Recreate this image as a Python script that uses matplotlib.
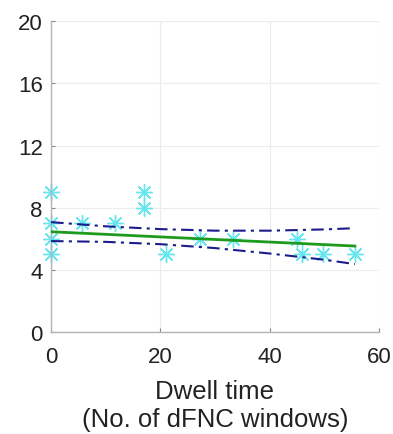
import numpy as np
import matplotlib
matplotlib.use("Agg")
import matplotlib.pyplot as plt

plt.rcParams['font.family'] = ['Liberation Sans', 'DejaVu Sans']

# dwell time (windows) vs. score, one point per subject
dwell = [0, 0, 0, 0, 5.7, 11.7, 17, 17, 21, 27.2, 33.3, 45, 46, 49.7, 55.6]
score = [9, 7, 6, 5, 7, 7, 9, 8, 5, 6, 6, 6, 5, 5, 5]

# linear fit and its confidence bounds
fit_x = [0, 55.6]
fit_y = [6.45, 5.53]
ci_x = [0, 10, 20, 30, 40, 50, 55.6]
ci_upper = [7.07, 6.80, 6.62, 6.52, 6.52, 6.60, 6.68]
ci_lower = [5.85, 5.80, 5.65, 5.40, 5.05, 4.65, 4.37]

xticks = [0, 20, 40, 60]
yticks = [0, 4, 8, 12, 16, 20]


def main():
    fig = plt.figure(figsize=(3.93, 4.35), dpi=100)
    ax = fig.add_axes([0.130, 0.2345, 0.834, 0.7145])

    ax.plot(dwell, score, linestyle='none', marker=(8, 2, 0), markersize=12,
            markeredgewidth=1.0, color='#66e6ee', zorder=2, clip_on=False)
    ax.plot(ci_x, ci_upper, linestyle=(0, (6, 2.5, 1.5, 2.5)), color='#1c1c8c',
            linewidth=1.5, zorder=3)
    ax.plot(ci_x, ci_lower, linestyle=(0, (6, 2.5, 1.5, 2.5)), color='#1c1c8c',
            linewidth=1.5, zorder=3)
    ax.plot(fit_x, fit_y, color='#1e9a1e', linewidth=2.0, zorder=4)

    ax.set_xlim(0, 60)
    ax.set_ylim(0, 20)
    ax.set_xticks(xticks)
    ax.set_yticks(yticks)
    ax.grid(True, color='#ececec', linewidth=0.8)
    ax.set_axisbelow(True)

    for side in ['top', 'right']:
        ax.spines[side].set_visible(False)
    for side in ['left', 'bottom']:
        ax.spines[side].set_color('#b4b4b4')
        ax.spines[side].set_linewidth(1.0)
    ax.tick_params(direction='in', length=3, color='#888888',
                   labelsize=16, labelcolor='#222222')
    ax.tick_params(axis='x', pad=10)
    ax.tick_params(axis='y', pad=6)

    ax.set_xlabel('Dwell time\n(No. of dFNC windows)', fontsize=18.5,
                  color='#222222', labelpad=9, linespacing=1.2)

    fig.savefig('out.png', dpi=100)


if __name__ == "__main__":
    main()
